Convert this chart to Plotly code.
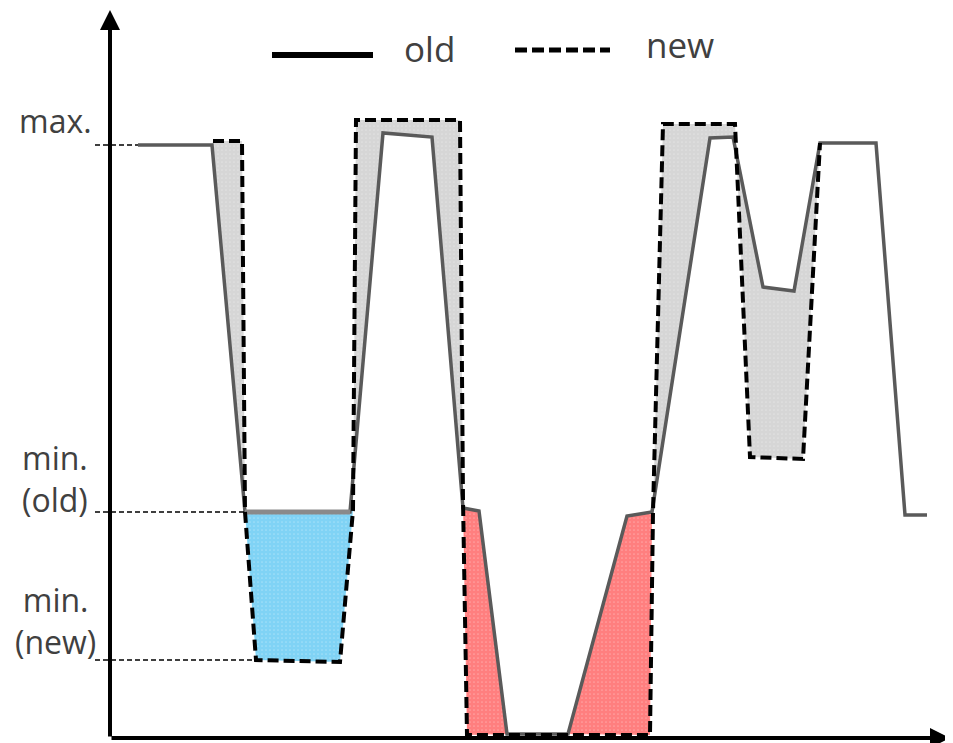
import plotly.graph_objects as go

# ---- data (x: horizontal position, y: level above the x axis) ----
old_x = [28, 102, 135, 240, 273, 322, 353, 369, 397, 458, 517, 542, 600, 623, 653, 684, 710, 766, 795, 817]
old_y = [593, 593, 226, 226, 605, 601, 230, 227, 4, 4, 222, 226, 600, 601, 451, 447, 595, 595, 223, 223]

new_x = [103, 132, 135, 146, 230, 243, 246, 350, 353, 357, 540, 543, 553, 625, 640, 693, 710]
new_y = [597, 597, 226, 78, 76, 228, 618, 618, 238, 3, 3, 226, 614, 614, 281, 279, 595]

level_labels = ["max.", "min.<br>(old)", "min.<br>(new)"]
level_values = [593, 226, 78]
legend_labels = ["old", "new"]

GRAY_FILL = "#d6d6d6"
BLUE_FILL = "#80d3f5"
RED_FILL = "#ff7f7f"
OLD_COL = "#5a5a5a"
TXT = "#404040"

fig = go.Figure()


def poly(xs, ys, color):
    fig.add_trace(go.Scatter(
        x=xs + [xs[0]], y=ys + [ys[0]], mode="lines", fill="toself",
        fillcolor=color, line=dict(width=0), hoverinfo="skip",
        fillpattern=dict(shape=".", fgcolor="rgba(255,255,255,0.55)", bgcolor=color,
                         size=4, solidity=0.15),
        showlegend=False))


# gray areas: new above old
poly(new_x[0:3] + old_x[1:3][::-1], new_y[0:3] + old_y[1:3][::-1], GRAY_FILL)
poly(new_x[5:9] + old_x[3:7][::-1], new_y[5:9] + old_y[3:7][::-1], GRAY_FILL)
poly(new_x[11:17] + old_x[11:17][::-1], new_y[11:17] + old_y[11:17][::-1], GRAY_FILL)
# blue area: new below the old minimum
poly(new_x[2:6] + [old_x[3]], new_y[2:6] + [old_y[3]], BLUE_FILL)
# red areas: new drops below old near the bottom
poly(new_x[8:10] + old_x[6:9][::-1], new_y[8:10] + old_y[6:9][::-1], RED_FILL)
poly(old_x[9:12] + new_x[10:11], old_y[9:12] + new_y[10:11], RED_FILL)

# old line
fig.add_trace(go.Scatter(x=old_x, y=old_y, mode="lines",
                         line=dict(color=OLD_COL, width=3.5), hoverinfo="skip", showlegend=False))
# old minimum segment (top of blue area)
fig.add_trace(go.Scatter(x=old_x[2:4], y=old_y[2:4], mode="lines",
                         line=dict(color="#8a8a8a", width=5), hoverinfo="skip", showlegend=False))
# new line
fig.add_trace(go.Scatter(x=new_x, y=new_y, mode="lines",
                         line=dict(color="black", width=4, dash="11px,5px"), hoverinfo="skip",
                         showlegend=False))

# level leader lines and labels
lead_end = [old_x[0], old_x[2], new_x[3]]
label_shift = [25, 34, 40]
for lab, v, xe, sh in zip(level_labels, level_values, lead_end, label_shift):
    fig.add_shape(type="line", x0=-15, x1=xe, y0=v, y1=v,
                  line=dict(color="black", width=1.5, dash="5px,3px"))
    fig.add_annotation(x=-55, y=v, text=lab, showarrow=False, xanchor="center",
                       yanchor="middle", yshift=sh,
                       font=dict(family="Open Sans", size=32, color=TXT), align="center")

# axes with arrows
fig.add_annotation(x=0, y=728, ax=0, ay=0, xref="x", yref="y", axref="x", ayref="y",
                   showarrow=True, arrowhead=2, arrowsize=1, arrowwidth=4, arrowcolor="black",
                   text="")
fig.add_annotation(x=840, y=0, ax=0, ay=0, xref="x", yref="y", axref="x", ayref="y",
                   showarrow=True, arrowhead=2, arrowsize=1, arrowwidth=4, arrowcolor="black",
                   text="")

# legend
fig.add_shape(type="line", x0=162, x1=263, y0=683, y1=683, line=dict(color="black", width=6))
fig.add_annotation(x=319, y=690, text=legend_labels[0], showarrow=False,
                   font=dict(family="Open Sans", size=35, color=TXT))
fig.add_shape(type="line", x0=405, x1=500, y0=688, y1=688,
              line=dict(color="black", width=5, dash="12px,5px"))
fig.add_annotation(x=570, y=694, text=legend_labels[1], showarrow=False,
                   font=dict(family="Open Sans", size=35, color=TXT))

# page body has an 8px margin: figure is 945x735 placed at (8,8)
fig.update_layout(
    width=945, height=735, margin=dict(l=0, r=0, t=0, b=0),
    paper_bgcolor="white", plot_bgcolor="white",
    xaxis=dict(range=[-102, 843], visible=False, fixedrange=True),
    yaxis=dict(range=[-5, 730], visible=False, fixedrange=True),
    showlegend=False,
)

fig.write_html("out.html")
